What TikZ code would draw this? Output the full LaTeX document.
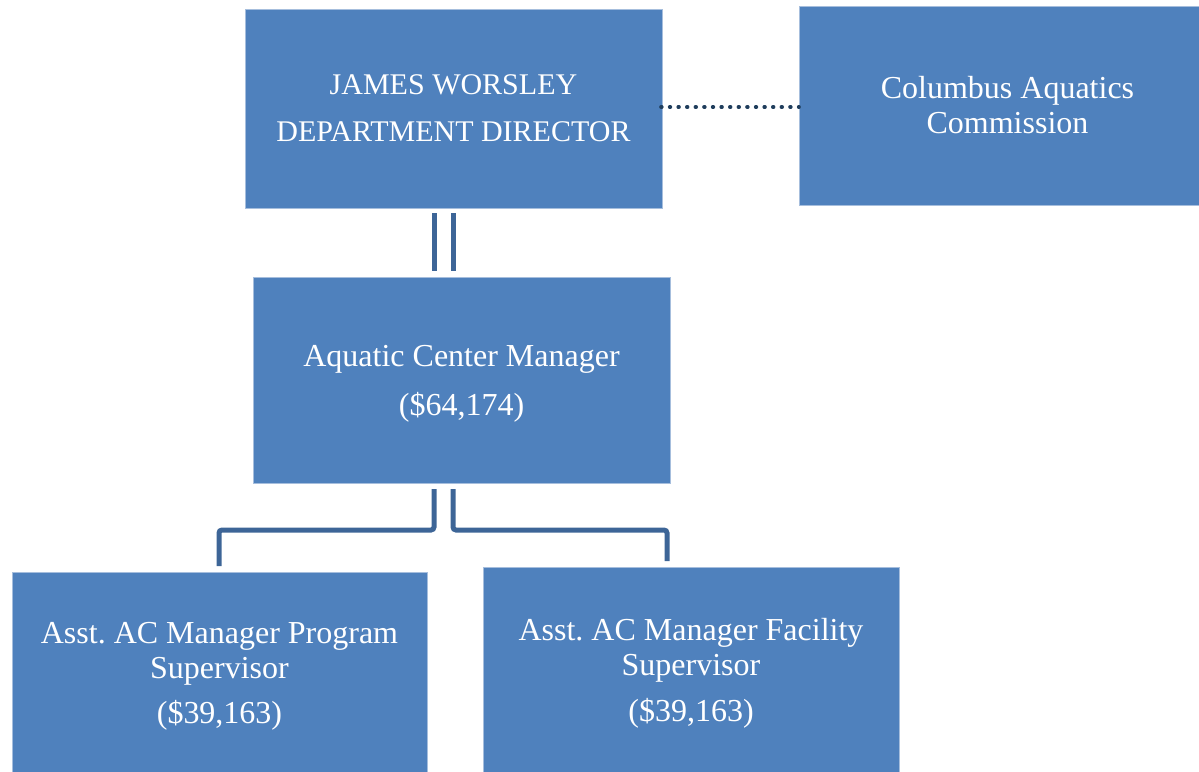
\documentclass[tikz,border=0pt]{standalone}
\usepackage{fontspec}
\setmainfont{Liberation Serif}
\usetikzlibrary{calc}
\frenchspacing
\definecolor{boxblue}{HTML}{4F81BD}
\definecolor{boxedge}{HTML}{A6BEDD}
\definecolor{linkblue}{HTML}{3D6597}
\definecolor{dotblue}{HTML}{1F3D5C}
\tikzset{
  orgbox/.style={rectangle, fill=boxblue, draw=boxedge, line width=1pt,
    text=white, align=center, inner sep=0pt,
    font=\fontsize{32}{35}\selectfont},
  link/.style={draw=linkblue, line width=5pt, rounded corners=3pt},
  dotlink/.style={draw=dotblue, line width=3.6pt, line cap=round,
    dash pattern=on 0.8pt off 7.8pt}
}
\begin{document}
\begin{tikzpicture}[x=1pt,y=-1pt]
\useasboundingbox (0,0) rectangle (1199,771);
\clip (0,0) rectangle (1199,771);
\node[orgbox, minimum width=417pt, minimum height=199pt,
  font=\fontsize{30}{35}\selectfont] (dir) at (453.5,108.5)
  {JAMES WORSLEY\\[12pt]DEPARTMENT DIRECTOR};
\node[orgbox, minimum width=417pt, minimum height=199pt] (com) at (1007.5,105.5)
  {Columbus Aquatics\\Commission};
\node[orgbox, minimum width=417pt, minimum height=206pt] (mgr) at (461.5,380)
  {\rule{0pt}{29pt}Aquatic Center Manager\\[14pt](\$64,174)};
\node[orgbox, minimum width=415pt, minimum height=208pt] (prog) at (219.5,676)
  {Asst.\ AC Manager Program\\Supervisor\\[10pt](\$39,163)};
\node[orgbox, minimum width=416pt, minimum height=212pt] (fac) at (691,673)
  {Asst.\ AC Manager Facility\\Supervisor\\[11pt](\$39,163)};
% dotted link
\coordinate (d1) at (661,107);
\coordinate (d2) at (799,107);
\draw[dotlink] (d1) -- (d2);
% director to manager
\coordinate (t1) at (434,213);
\coordinate (t2) at (434,271);
\coordinate (t3) at (453,213);
\coordinate (t4) at (453,271);
\draw[link] (t1) -- (t2);
\draw[link] (t3) -- (t4);
% manager to assistants
\coordinate (l1) at (434,489);
\coordinate (l2) at (434,530);
\coordinate (l3) at (219,530);
\coordinate (l4) at (219,566);
\draw[link] (l1) -- (l2) -- (l3) -- (l4);
\coordinate (r1) at (453,489);
\coordinate (r2) at (453,530);
\coordinate (r3) at (667,530);
\coordinate (r4) at (667,561);
\draw[link] (r1) -- (r2) -- (r3) -- (r4);
\end{tikzpicture}
\end{document}
